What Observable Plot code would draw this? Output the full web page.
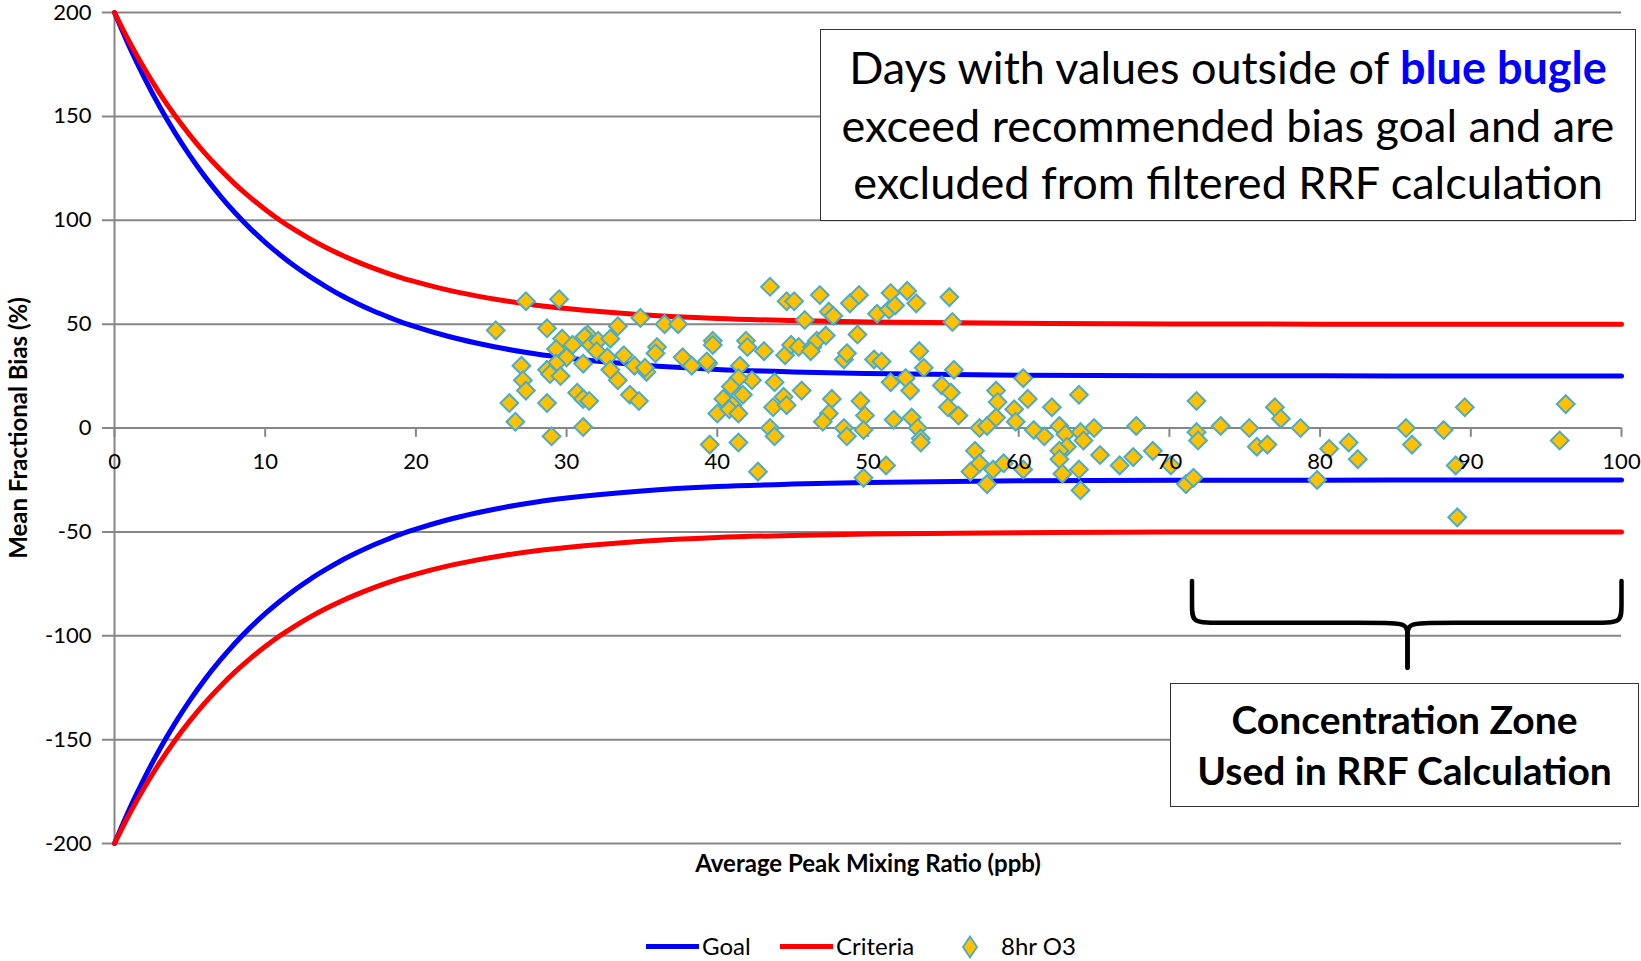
<!DOCTYPE html>
<html>
<head>
<meta charset="utf-8">
<script src="https://cdn.jsdelivr.net/npm/d3@7"></script>
<script src="https://cdn.jsdelivr.net/npm/@observablehq/plot@0.6"></script>
<style>
  html, body { margin: 0; padding: 0; background: #fff; }
  #wrap { position: relative; width: 1641px; height: 961px; font-family: Lato, "Open Sans", sans-serif; }
  .box { position: absolute; box-sizing: border-box; border: 1.5px solid #333; background: #fff; text-align: center; color: #000; }
  #topbox { left: 820px; top: 29px; width: 816px; height: 192px; font-size: 45px; line-height: 57.5px; padding-top: 9px; white-space: nowrap; }
  #topbox b { color: #0000ff; }
  #botbox { left: 1170px; top: 683px; width: 469px; height: 124px; font-size: 39px; line-height: 51px; font-weight: bold; padding-top: 10px; white-space: nowrap; }
  .leg { position: absolute; font-size: 24px; line-height: 30px; top: 931px; color: #000; }
  .legline { position: absolute; height: 5px; top: 944px; }
</style>
</head>
<body>
<div id="wrap"></div>
<script>
// ---- data ----
const curveX        = [0, 1, 2, 3, 4, 5, 6, 7, 8, 9, 10, 11, 12, 13, 14, 15, 16, 17, 18, 19, 20, 22, 24, 26, 28, 30, 35, 40, 45, 50, 60, 70, 80, 90, 100];
const goalUpper     = [200, 183.3, 168.3, 154.6, 142.3, 131.1, 121.0, 111.9, 103.6, 96.1, 89.4, 83.3, 77.7, 72.7, 68.2, 64.0, 60.3, 56.9, 53.9, 51.1, 48.7, 44.4, 40.9, 38.0, 35.6, 33.7, 30.3, 28.2, 27.0, 26.2, 25.4, 25.2, 25.1, 25, 25];
const goalLower     = [-200, -183.3, -168.3, -154.6, -142.3, -131.1, -121.0, -111.9, -103.6, -96.1, -89.4, -83.3, -77.7, -72.7, -68.2, -64.0, -60.3, -56.9, -53.9, -51.1, -48.7, -44.4, -40.9, -38.0, -35.6, -33.7, -30.3, -28.2, -27.0, -26.2, -25.4, -25.2, -25.1, -25, -25];
const criteriaUpper = [200, 185.7, 172.8, 161.1, 150.5, 141.0, 132.3, 124.5, 117.4, 111.0, 105.2, 99.9, 95.2, 90.9, 87.0, 83.5, 80.3, 77.4, 74.8, 72.4, 70.3, 66.6, 63.6, 61.1, 59.1, 57.5, 54.5, 52.7, 51.7, 51.0, 50.4, 50.1, 50, 50, 50];
const criteriaLower = [-200, -185.7, -172.8, -161.1, -150.5, -141.0, -132.3, -124.5, -117.4, -111.0, -105.2, -99.9, -95.2, -90.9, -87.0, -83.5, -80.3, -77.4, -74.8, -72.4, -70.3, -66.6, -63.6, -61.1, -59.1, -57.5, -54.5, -52.7, -51.7, -51.0, -50.4, -50.1, -50, -50, -50];

const o3Points = [
  [25.3,47],[27.3,61],[29.5,62],[28.7,48],[27.0,30],[27.1,23],[27.3,18],[26.2,12],[26.6,3],[28.7,12],
  [29.0,-4],[31.1,0.5],[29.7,43],[29.3,38],[30.4,40],[30.0,34],[29.3,31],[28.7,28],[28.9,26],[29.6,25],
  [31.1,31],[30.7,17],[31.1,14],[31.5,13],[31.4,45],[31.2,44],[31.6,40],[32.1,42],[32.0,37],[32.9,43],
  [33.4,49],[32.7,34],[32.9,28],[33.4,23],[33.8,35],[34.5,30],[34.9,53],[34.2,16],[34.8,13],[35.3,27],
  [35.2,29],[36.0,39],[35.9,36],[36.5,50],[37.4,50],[37.7,34],[38.3,30],[39.4,31],
  [43.5,68],[44.6,61],[45.1,61],[46.8,64],[45.8,52],[47.4,56],[47.7,54],[48.8,60],[49.4,64],[49.3,45],
  [50.6,55],[51.4,57],[51.5,65],[51.8,59],[52.6,66],[53.2,60],[53.4,37],[53.7,29],[39.7,42],[39.7,40],
  [39.3,32],[41.9,42],[42.0,39],[43.1,37],[41.5,30],[42.3,23],[41.4,24],[40.9,20],[41.7,16],[40.4,14],
  [41.0,11],[40.0,7],[40.8,9],[41.4,7],[39.5,-8],[41.4,-7],[42.7,-21],[43.8,22],[43.7,10],[44.4,15],
  [44.6,11],[43.5,0],[43.8,-4],[45.6,18],[44.5,35],[44.9,40],[45.4,39],[46.3,39],[46.6,42],[47.2,44.5],
  [46.2,37],[48.4,33],[48.6,36],[47.6,14],[47.4,7],[47.0,3],[48.4,0],[48.6,-4],[49.5,13],[49.8,6],
  [49.7,-1],[49.7,-24],[51.2,-18],[50.4,33],[50.9,32],[51.5,22],[52.5,24],[52.8,18],[51.7,4],[52.9,5],
  [53.3,0],[53.5,-5],[53.5,-7],
  [55.4,63],[55.6,51],[55.7,28],[54.9,20.5],[55.5,17],[55.3,10],[56.0,6],[57.4,0],[57.9,1],[58.5,18],
  [58.6,12.5],[58.5,5],[59.7,9],[59.8,3],[60.3,24],[60.6,14],[57.1,-11],[57.4,-17],[56.8,-21],[57.9,-27],
  [58.3,-20],[59.0,-17],[60.3,-20],[61.0,-1],[61.7,-4],[62.2,10],[62.7,1],[63.1,-3],[63.2,-9],[62.7,-11],
  [62.7,-15],[62.9,-22],[64.0,16],[64.1,-2],[64.3,-6],[65.0,0],[64.0,-20],[64.1,-30],[65.4,-13],
  [66.7,-18],[67.6,-14],[67.8,1],[68.9,-11],[70.1,-18],[71.8,13],[71.8,-2],[71.9,-6],[71.1,-27],[71.6,-24],
  [73.4,1],[75.3,0],[75.8,-9],[76.5,-8],[77.0,10],[77.4,4.5],[78.7,0],[79.8,-25],[80.6,-10],[81.9,-7],
  [82.5,-15],[85.7,0],[86.1,-8],[88.2,-1],[89.0,-18],[89.6,10],[89.1,-43],[96.3,11.5],[95.9,-6]
];

const xTicks = [0, 10, 20, 30, 40, 50, 60, 70, 80, 90, 100];
const yTicks = [-200, -150, -100, -50, 0, 50, 100, 150, 200];

// brace annotation (data coordinates)
const braceLeft  = [[71.5,-73.7],[71.5,-86],[71.5,-93.8],[73,-93.8],[84,-93.8],[85.8,-93.8],[85.8,-100],[85.8,-115.4]];
const braceRight = [[100,-73.7],[100,-86],[100,-93.8],[98.5,-93.8],[87.6,-93.8],[85.8,-93.8],[85.8,-100],[85.8,-115.4]];

const xTitle = "Average Peak Mixing Ratio (ppb)";
const yTitle = "Mean Fractional Bias (%)";

// ---- build ----
const toRows = (ys) => curveX.map((x, i) => ({x, y: ys[i]}));
const GRID = "#868686";

const plot = Plot.plot({
  width: 1641,
  height: 920,
  marginLeft: 114,
  marginRight: 20,
  marginTop: 12,
  marginBottom: 77,
  style: {fontFamily: "Lato, 'Open Sans', sans-serif", background: "#fff", color: "#000", overflow: "visible"},
  x: {domain: [0, 100], axis: null},
  y: {domain: [-200, 200], axis: null},
  marks: [
    Plot.ruleY(yTicks, {y: d => d, x1: -0.8, x2: 100, stroke: GRID, strokeWidth: 2}),
    Plot.ruleX([0], {x: 0, y1: -200, y2: 200, stroke: GRID, strokeWidth: 2}),
    Plot.ruleX(xTicks, {x: d => d, y1: 0, y2: -4.5, stroke: GRID, strokeWidth: 2}),
    Plot.line(toRows(goalUpper), {x: "x", y: "y", stroke: "#0000ff", strokeWidth: 5, curve: "monotone-x"}),
    Plot.line(toRows(goalLower), {x: "x", y: "y", stroke: "#0000ff", strokeWidth: 5, curve: "monotone-x"}),
    Plot.line(toRows(criteriaUpper), {x: "x", y: "y", stroke: "#ff0000", strokeWidth: 5, curve: "monotone-x"}),
    Plot.line(toRows(criteriaLower), {x: "x", y: "y", stroke: "#ff0000", strokeWidth: 5, curve: "monotone-x"}),
    Plot.dot(o3Points, {x: d => d[0], y: d => d[1], symbol: "diamond2", r: 8, fill: "#FFC000", stroke: "#4BACC6", strokeWidth: 2}),
    Plot.text(yTicks, {x: 0, y: d => d, text: d => String(d), dx: -23, textAnchor: "end", fontSize: 22, fill: "#000"}),
    Plot.text(xTicks, {x: d => d, y: 0, text: d => String(d), dy: 34, fontSize: 22, fill: "#000"}),
    Plot.text([xTitle], {frameAnchor: "bottom", text: d => d, dy: 28, fontSize: 24, fontWeight: "bold", fill: "#000"}),
    Plot.text([yTitle], {frameAnchor: "left", textAnchor: "middle", text: d => d, dx: -95, rotate: -90, fontSize: 24, fontWeight: "bold", fill: "#000"}),
    Plot.line(braceLeft, {x: d => d[0], y: d => d[1], curve: "basis", stroke: "#000", strokeWidth: 4.5, strokeLinecap: "round"}),
    Plot.line(braceRight, {x: d => d[0], y: d => d[1], curve: "basis", stroke: "#000", strokeWidth: 4.5, strokeLinecap: "round"})
  ]
});

const wrap = document.getElementById("wrap");
wrap.appendChild(plot);

const topbox = document.createElement("div");
topbox.className = "box"; topbox.id = "topbox";
topbox.innerHTML = "Days with values outside of <b>blue bugle</b><br>exceed recommended bias goal and are<br>excluded from filtered RRF calculation";
wrap.appendChild(topbox);

const botbox = document.createElement("div");
botbox.className = "box"; botbox.id = "botbox";
botbox.innerHTML = "Concentration Zone<br>Used in RRF Calculation";
wrap.appendChild(botbox);

// legend (below the SVG)
const legendItems = [
  {label: "Goal", kind: "line", color: "#0000ff", x0: 646, tx: 702},
  {label: "Criteria", kind: "line", color: "#ff0000", x0: 780, tx: 836},
  {label: "8hr O3", kind: "dot", color: "#FFC000", x0: 970, tx: 1001}
];
for (const it of legendItems) {
  if (it.kind === "line") {
    const l = document.createElement("div");
    l.className = "legline";
    l.style.left = it.x0 + "px"; l.style.width = "53px"; l.style.background = it.color;
    wrap.appendChild(l);
  } else {
    const s = document.createElementNS("http://www.w3.org/2000/svg", "svg");
    s.setAttribute("width", 20); s.setAttribute("height", 24);
    s.style.position = "absolute"; s.style.left = (it.x0 - 10) + "px"; s.style.top = "935px";
    s.innerHTML = '<path d="M10,1.5 L17,12 L10,22.5 L3,12 Z" fill="#FFC000" stroke="#4BACC6" stroke-width="1.8"/>';
    wrap.appendChild(s);
  }
  const t = document.createElement("div");
  t.className = "leg"; t.style.left = it.tx + "px"; t.textContent = it.label;
  wrap.appendChild(t);
}
</script>
</body>
</html>
